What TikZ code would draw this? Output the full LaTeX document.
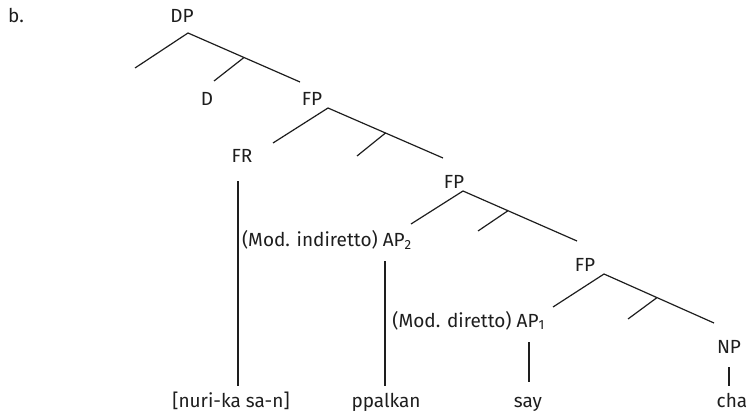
\documentclass[tikz,border=0pt]{standalone}
\usepackage{fontspec}
\setmainfont[Ligatures=NoCommon]{Fira Sans}
\definecolor{ink}{RGB}{30,30,30}
\begin{document}
\begin{tikzpicture}[x=1pt,y=-1pt,
  lbl/.style={inner sep=0pt,anchor=base,text=ink,font=\fontsize{19}{21}\selectfont},
  edge/.style={draw=ink,line width=1.2pt}]
\useasboundingbox (0,0) rectangle (751,414);
% labels
\node[lbl,anchor=base west] (b) at (8,23) {b.};
\node[lbl] (DP) at (182,23) {DP};
\node[lbl] (D) at (207,106) {D};
\node[lbl] (FP1) at (312,106) {FP};
\node[lbl] (FR) at (242,162) {FR};
\node[lbl] (FP2) at (454,188) {FP};
\node[lbl,anchor=base east] (AP2) at (412,246) {(Mod. indiretto) AP\textsubscript{2}};
\node[lbl] (FP3) at (585,271) {FP};
\node[lbl,anchor=base east] (AP1) at (545,327) {(Mod. diretto) AP\textsubscript{1}};
\node[lbl] (NP) at (729,353) {NP};
\node[lbl] (w1) at (231,407) {[nuri-ka sa-n]};
\node[lbl] (w2) at (386,407) {ppalkan};
\node[lbl] (w3) at (528,407) {say};
\node[lbl] (w4) at (732,407) {cha};
% DP
\coordinate (dpT) at (188,33);
\coordinate (dpL) at (135,68);
\coordinate (dpR) at (300,82);
\coordinate (dpM) at (244,57.5);
\coordinate (dpB) at (214,81);
% FP1
\coordinate (f1T) at (328,108);
\coordinate (f1L) at (273,143);
\coordinate (f1R) at (443,158);
\coordinate (f1M) at (385.5,133);
\coordinate (f1B) at (357,156);
% FP2
\coordinate (f2T) at (463,191);
\coordinate (f2L) at (411,224);
\coordinate (f2R) at (577,241);
\coordinate (f2M) at (508,210.7);
\coordinate (f2B) at (478,231);
% FP3
\coordinate (f3T) at (604,274);
\coordinate (f3L) at (553,307);
\coordinate (f3R) at (714,323);
\coordinate (f3M) at (657,297.6);
\coordinate (f3B) at (628,319);
% vertical
\coordinate (frA) at (238,181);
\coordinate (frB) at (238,386);
\coordinate (a2A) at (385,261);
\coordinate (a2B) at (385,386);
\coordinate (a1A) at (529,342);
\coordinate (a1B) at (529,382);
\coordinate (npA) at (729,367);
\coordinate (npB) at (729,386);
\draw[edge] (dpL) -- (dpT) -- (dpR) (dpM) -- (dpB);
\draw[edge] (f1L) -- (f1T) -- (f1R) (f1M) -- (f1B);
\draw[edge] (f2L) -- (f2T) -- (f2R) (f2M) -- (f2B);
\draw[edge] (f3L) -- (f3T) -- (f3R) (f3M) -- (f3B);
\draw[edge] (frA) -- (frB);
\draw[edge] (a2A) -- (a2B);
\draw[edge] (a1A) -- (a1B);
\draw[edge] (npA) -- (npB);
\end{tikzpicture}
\end{document}
